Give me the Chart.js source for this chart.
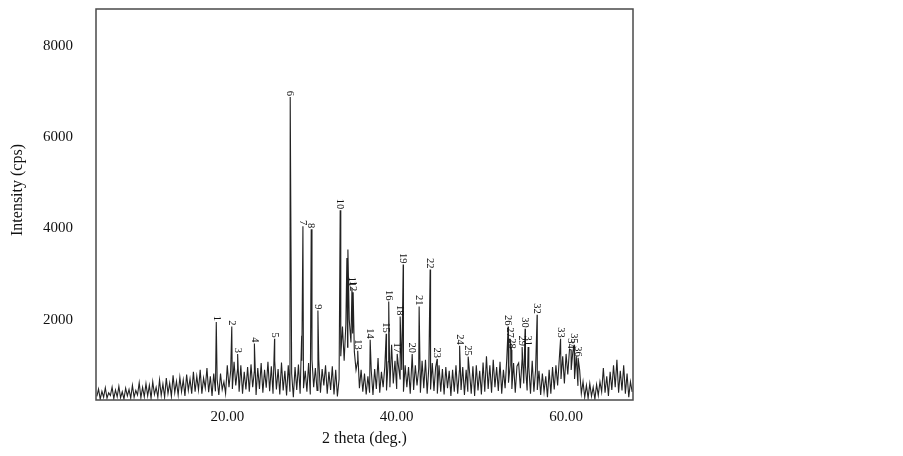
<!DOCTYPE html>
<html>
<head>
<meta charset="utf-8">
<title>XRD pattern</title>
<script src="https://cdn.jsdelivr.net/npm/chart.js@4.4.1/dist/chart.umd.min.js"></script>
<style>
  html, body { margin: 0; padding: 0; background: #fff; }
  #wrap { width: 903px; height: 456px; position: relative; }
</style>
</head>
<body>
<div id="wrap"><canvas id="xrd"></canvas></div>
<script>
/* ================= DATA ================= */

// scan grid of the background trace (deg. 2 theta)
const scanStart = 4.6;
const scanStep = 0.2;

// background counts, one value per scan step
const bgCounts = [
  320, 480, 260, 430, 300, 510, 280, 400, 340, 520,
  270, 460, 310, 540, 290, 420, 260, 500, 330, 470,
  280, 560, 300, 450, 350, 620, 290, 520, 310, 600,
  330, 560, 280, 640, 360, 520, 300, 680, 340, 590,
  300, 720, 380, 610, 320, 780, 400, 650, 350, 740,
  420, 680, 330, 800, 450, 700, 380, 860, 420, 760,
  460, 900, 380, 720, 500, 940, 410, 760, 330, 820,
  430, 700, 350, 820, 470, 640, 380, 1000, 520, 880,
  480, 1080, 560, 900, 420, 1000, 380, 860, 470, 960,
  420, 1020, 520, 880, 350, 940, 480, 1050, 400, 900,
  510, 1080, 430, 980, 380, 1100, 470, 920, 360, 1060,
  450, 880, 340, 1000, 420, 820, 300, 960, 460, 1020,
  380, 1100, 500, 880, 420, 1050, 360, 1120, 520, 940,
  450, 1120, 400, 920, 560, 1000, 380, 860, 460, 980,
  360, 900, 320, 700, 1200, 1850, 1100, 1900, 1400, 2000,
  1500, 1700, 1300, 900, 1100, 500, 900, 420, 820, 360,
  760, 400, 880, 350, 920, 480, 1160, 400, 860, 520,
  980, 450, 1080, 520, 1450, 600, 1100, 480, 1000, 700,
  900, 420, 1000, 520, 960, 380, 1120, 460, 1000, 560,
  920, 400, 1100, 500, 1120, 380, 980, 470, 1050, 440,
  960, 380, 1000, 420, 920, 360, 960, 500, 880, 330,
  900, 420, 1000, 380, 880, 460, 960, 350, 900, 420,
  860, 380, 980, 330, 1000, 450, 880, 360, 1060, 420,
  1200, 480, 1000, 400, 1120, 520, 960, 440, 1080, 380,
  900, 500, 1150, 620, 1000, 480, 1050, 400, 980, 1050,
  500, 1120, 600, 1000, 450, 960, 380, 1100, 420, 900,
  460, 880, 350, 820, 420, 760, 300, 900, 380, 960,
  470, 1000, 560, 1150, 700, 1200, 600, 1250, 800, 1350,
  900, 1300, 700, 1200, 550, 900, 380, 640, 300, 560,
  280, 600, 320, 520, 260, 580, 340, 640, 420, 940,
  400, 760, 330, 860, 460, 1000, 520, 1120, 400, 880,
  450, 1000, 380, 820, 300, 640, 420
];

// labelled reflections
const peakLabels = [
  "1", "2", "3", "4", "5", "6", "7", "8", "9", "10",
  "11", "12", "13", "14", "15", "16", "17", "18", "19", "20",
  "21", "22", "23", "24", "25", "26", "27", "28", "29", "30",
  "31", "32", "33", "34", "35", "36"
];
const peakTheta = [
  18.70, 20.53, 21.22, 23.20, 25.58, 27.43, 28.93, 29.91, 30.70, 33.33,
  34.72, 34.86, 35.40, 36.87, 38.76, 39.06, 40.06, 40.41, 40.77, 41.83,
  42.65, 43.95, 44.78, 47.43, 48.44, 53.16, 53.40, 53.55, 54.81, 55.16,
  55.52, 56.58, 59.35, 60.59, 60.94, 61.42
];
const peakCounts = [
  1950, 1850, 1250, 1480, 1580, 6880, 4050, 3980, 2200, 4400,
  2700, 2600, 1320, 1560, 1690, 2400, 1250, 2070, 3210, 1250,
  2290, 3100, 1140, 1430, 1190, 1850, 1580, 1340, 1400, 1800,
  1400, 2110, 1580, 1340, 1450, 1165
];

// unlabelled spikes and shoulders
const shoulderTheta = [28.78, 34.12, 34.24];
const shoulderCounts = [1650, 3350, 3540];

const xTicks = [20, 40, 60];
const yTicks = [2000, 4000, 6000, 8000];

/* ================= BUILD TRACE ================= */

const trace = [];
bgCounts.forEach((c, i) => trace.push({ x: +(scanStart + i * scanStep).toFixed(2), y: c }));
peakTheta.forEach((t, i) => trace.push({ x: t, y: peakCounts[i] }));
shoulderTheta.forEach((t, i) => trace.push({ x: t, y: shoulderCounts[i] }));
trace.sort((a, b) => a.x - b.x);

/* ================= PLUGINS ================= */

const SERIF = "'Liberation Serif', 'DejaVu Serif', serif";

// box round the plot area
const framePlugin = {
  id: "frame",
  afterDraw(chart) {
    const { ctx, chartArea: a } = chart;
    ctx.save();
    ctx.strokeStyle = "#4a4a4a";
    ctx.lineWidth = 1.5;
    ctx.strokeRect(a.left, a.top, a.right - a.left, a.bottom - a.top);
    ctx.restore();
  },
};

// peak numbers, written top-to-bottom above each reflection
const peakLabelPlugin = {
  id: "peakLabels",
  afterDatasetsDraw(chart) {
    const { ctx, scales: { x, y } } = chart;
    ctx.save();
    ctx.font = "10.5px " + SERIF;
    ctx.fillStyle = "#111";
    ctx.textAlign = "right";
    ctx.textBaseline = "middle";
    peakLabels.forEach((lab, i) => {
      const px = x.getPixelForValue(peakTheta[i]);
      const py = y.getPixelForValue(peakCounts[i]);
      ctx.save();
      ctx.translate(px, py - 1);
      ctx.rotate(Math.PI / 2);
      ctx.fillText(lab, 0, 0);
      ctx.restore();
    });
    ctx.restore();
  },
};

// y axis title
const yTitlePlugin = {
  id: "yTitle",
  afterDraw(chart) {
    const { ctx } = chart;
    ctx.save();
    ctx.font = "16px " + SERIF;
    ctx.fillStyle = "#111";
    ctx.textAlign = "center";
    ctx.textBaseline = "middle";
    ctx.translate(18, 190);
    ctx.rotate(-Math.PI / 2);
    ctx.fillText("Intensity (cps)", 0, 0);
    ctx.restore();
  },
};

/* ================= CHART ================= */

new Chart(document.getElementById("xrd"), {
  type: "line",
  data: {
    datasets: [{
      data: trace,
      borderColor: "#222",
      borderWidth: 1.1,
      pointRadius: 0,
      tension: 0,
      fill: false,
    }],
  },
  options: {
    responsive: true,
    maintainAspectRatio: false,
    devicePixelRatio: 1,
    animation: false,
    events: [],
    layout: { padding: { left: 0, right: 270, top: 8, bottom: 0 } },
    plugins: { legend: { display: false }, tooltip: { enabled: false } },
    scales: {
      x: {
        type: "linear",
        min: 4.5,
        max: 67.9,
        grid: { display: false, drawTicks: false },
        border: { display: false },
        afterBuildTicks: s => { s.ticks = xTicks.map(v => ({ value: v })); },
        afterFit: s => { s.height = 56; },
        ticks: {
          padding: 8,
          maxRotation: 0,
          color: "#111",
          font: { family: SERIF, size: 15 },
          callback: v => Number(v).toFixed(2),
        },
        title: {
          display: true,
          text: "2 theta (deg.)",
          color: "#111",
          font: { family: SERIF, size: 16 },
          padding: { top: 0, bottom: 8 },
        },
      },
      y: {
        min: 240,
        max: 8810,
        // tick marks are hidden; their length only sets the label gap
        grid: { display: false, drawTicks: true, tickLength: 23 },
        border: { display: false },
        afterBuildTicks: s => { s.ticks = yTicks.map(v => ({ value: v })); },
        afterFit: s => { s.width = 96; },
        ticks: {
          padding: 0,
          color: "#111",
          font: { family: SERIF, size: 15 },
          callback: v => String(v),
        },
      },
    },
  },
  plugins: [framePlugin, peakLabelPlugin, yTitlePlugin],
});
</script>
</body>
</html>
